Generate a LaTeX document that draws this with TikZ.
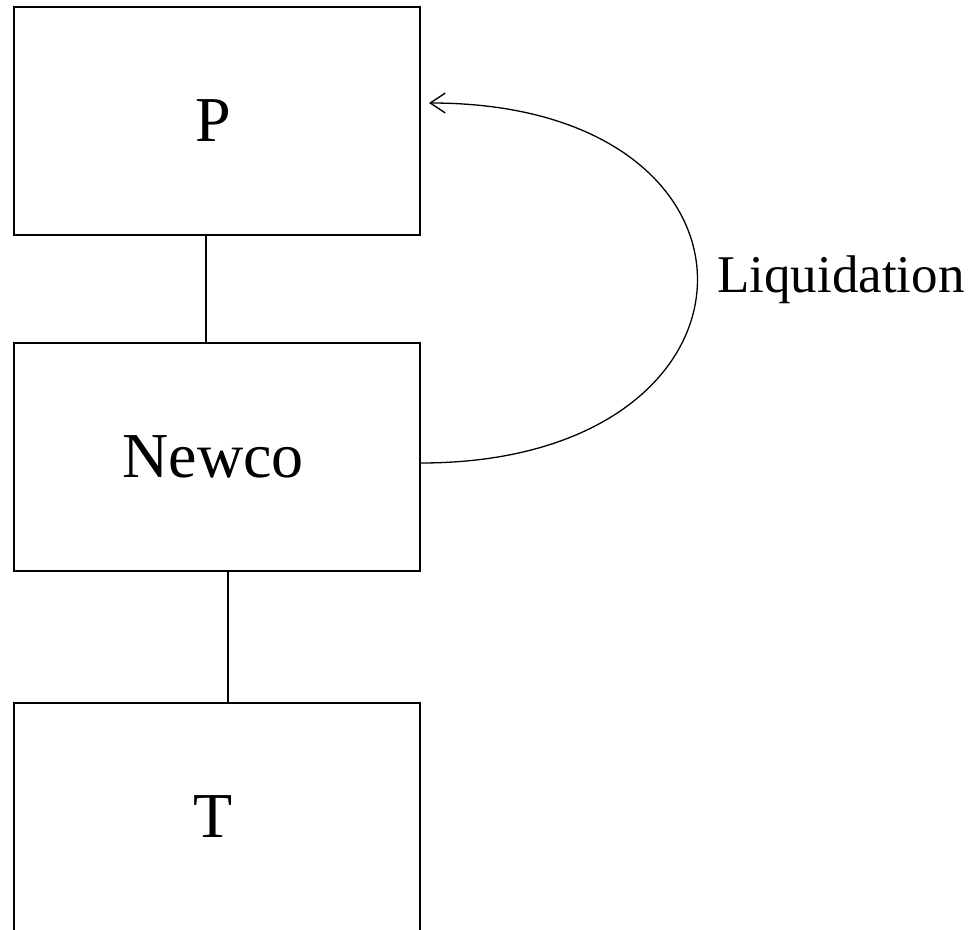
\documentclass[tikz,border=0pt]{standalone}
\usepackage{fontspec}
\setmainfont{Liberation Serif}
\usetikzlibrary{arrows.meta,calc}
\begin{document}
\begin{tikzpicture}[x=1pt,y=-1pt,
  entity/.style={draw,line width=1.2pt,minimum width=406pt,minimum height=228pt,inner sep=0pt,font=\fontsize{64}{70}\selectfont},
  link/.style={line width=1.2pt},
  flow/.style={line width=1.3pt,-{Straight Barb[length=15pt,width=20pt,line width=1.4pt]}}]
\clip (0,0) rectangle (977,929);
\fill[white] (0,0) rectangle (977,929);
\node[entity] (P) at (217,121) {\hspace*{-8pt}P};
\node[entity] (N) at (217,457) {\hspace*{-8pt}Newco};
\node[entity] (T) at (217,817) {\hspace*{-8pt}T};
\draw[link] ($(P.south)+(-11,0)$) -- ($(N.north)+(-11,0)$);
\draw[link] ($(N.south)+(11,0)$) -- ($(T.north)+(11,0)$);
\coordinate (tip) at (429,103);
\draw[flow] ($(N.east)+(0,6)$) .. controls (784,463) and (792,103) .. (tip);
\node[anchor=base west,inner sep=0pt,font=\fontsize{53}{60}\selectfont] (L) at (717,292) {Liquidation};
\end{tikzpicture}
\end{document}
